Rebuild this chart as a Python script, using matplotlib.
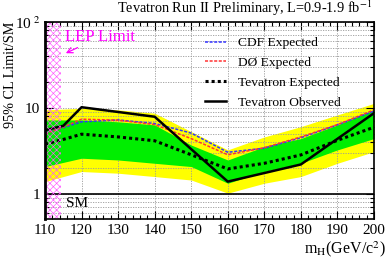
import numpy as np
import matplotlib
matplotlib.use("Agg")
import matplotlib.pyplot as plt
from matplotlib.ticker import MultipleLocator, LogLocator, NullFormatter, FixedLocator, FixedFormatter

plt.rcParams['font.family'] = ['Liberation Serif', 'DejaVu Serif']
plt.rcParams['mathtext.fontset'] = 'stix'
plt.rcParams['hatch.linewidth'] = 0.45

# Higgs masses (GeV/c^2)
mass = [110, 115, 120, 130, 140, 150, 160, 170, 180, 190, 200]
band_mass = [110, 120, 130, 140, 150, 160, 170, 180, 190, 200]

# limits / SM
cdf_exp = [5.1, 5.9, 6.9, 7.25, 6.6, 5.1, 3.05, 3.4, 4.5, 6.35, 9.2]
d0_exp = [5.0, 6.0, 7.4, 7.2, 6.4, 4.4, 2.85, 3.45, 4.6, 6.4, 9.5]
tev_exp = [3.8, 4.3, 4.95, 4.6, 4.15, 2.85, 1.95, 2.27, 2.84, 4.2, 5.96]
obs_mass = [110, 115, 120, 140, 160, 180, 200]
tev_obs = [5.5, 6.2, 10.2, 7.9, 1.39, 2.2, 8.7]

sig1_hi = [7.25, 7.25, 6.9, 6.35, 3.7, 2.48, 3.55, 4.4, 6.35, 9.5]
sig1_lo = [2.08, 2.6, 2.48, 2.27, 2.08, 1.33, 1.82, 2.27, 3.25, 4.4]
sig2_hi = [9.5, 9.9, 9.5, 8.7, 5.3, 3.25, 4.6, 6.06, 8.3, 11.3]
sig2_lo = [1.39, 1.82, 1.74, 1.59, 1.45, 1.02, 1.33, 1.59, 2.27, 3.1]

lep_limit = 114.4

fig = plt.figure(figsize=(3.87, 2.59), dpi=100)
ax = fig.add_axes([0.1163, 0.1544, 0.8501, 0.7606])

ax.fill_between(band_mass, sig2_lo, sig2_hi, color='#ffff00', lw=0, zorder=1)
ax.fill_between(band_mass, sig1_lo, sig1_hi, color='#00ee00', lw=0, zorder=2)

ax.plot(mass, cdf_exp, color='#3333ff', ls=(0, (2, 1)), lw=1.1, zorder=4, label='CDF Expected')
ax.plot(mass, d0_exp, color='#ff3333', ls=(0, (2, 1)), lw=1.1, zorder=4, label='D\u00d8 Expected')
ax.plot(mass, tev_exp, color='black', ls=(0, (1, 1)), lw=2.2, zorder=5, label='Tevatron Expected')
ax.plot(obs_mass, tev_obs, color='black', ls='-', lw=1.8, zorder=6, label='Tevatron Observed')

# LEP exclusion
ax.fill_betweenx([0.51, 100], 110, lep_limit, facecolor='none', edgecolor='#ff55ff',
                 hatch='xxxxx', lw=0, zorder=7)
ax.text(115.5, 67, 'LEP Limit', color='#ff00ff', fontsize=12, va='center', zorder=8)
ax.annotate('', xy=(115.0, 42), xytext=(119.6, 52),
            arrowprops=dict(arrowstyle='->', color='#ff00ff', lw=0.9), zorder=8)

# SM line
ax.axhline(1, color='black', lw=1.2, zorder=6)
ax.text(118.7, 0.78, 'SM', fontsize=11, ha='center', va='center')

ax.set_xlim(110, 200)
ax.set_ylim(0.51, 100)
ax.set_yscale('log')
ax.xaxis.set_major_locator(MultipleLocator(10))
ax.xaxis.set_minor_locator(MultipleLocator(2))
ax.yaxis.set_major_locator(FixedLocator([1, 10, 100]))
ax.yaxis.set_major_formatter(FixedFormatter(['1', '10', r'10$^{\ 2}$']))
ax.yaxis.set_minor_locator(LogLocator(base=10, subs=np.arange(2, 10)))
ax.yaxis.set_minor_formatter(NullFormatter())

ax.tick_params(which='both', direction='in', top=True, right=True, labelsize=11)
ax.tick_params(which='major', length=6, width=0.8)
ax.tick_params(which='minor', length=3, width=0.8)
ax.grid(True, which='major', axis='x', color='#999999', ls=(0, (1.5, 1.5)), lw=0.6)
ax.grid(True, which='both', axis='y', color='#999999', ls=(0, (1.5, 1.5)), lw=0.6)
for s in ax.spines.values():
    s.set_linewidth(1.2)
    s.set_zorder(10)
ax.spines['left'].set_linewidth(2.0)

ax.set_ylabel('95% CL Limit/SM', fontsize=10.2)
ax.yaxis.set_label_coords(-0.085, 0.73)
fig.text(0.998, 0.04, r'm$_{\rm H}$(GeV/c$^{2}$)', fontsize=11.5, ha='right', va='center')
fig.text(0.962, 0.968, r'Tevatron Run II Preliminary, L=0.9-1.9 fb$^{-1}$', fontsize=10.3,
         ha='right', va='center')

ax.legend(loc='upper left', frameon=False, fontsize=9.7, handlelength=1.55,
          handletextpad=0.9, labelspacing=0.56, borderpad=0, borderaxespad=0,
          bbox_to_anchor=(0.486, 0.925))

fig.savefig('out.png', dpi=100)
